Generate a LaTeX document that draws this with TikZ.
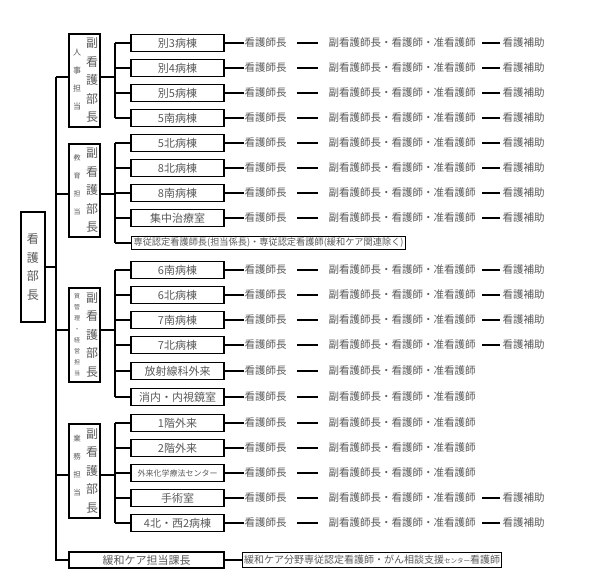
\documentclass[tikz,border=0pt]{standalone}
\usepackage{fontspec}
\setmainfont{Noto Sans CJK JP}
\begin{document}
\begin{tikzpicture}[x=1pt,y=-1pt,
  line width=1.1pt,
  tx/.style={text=black!65},
  ward/.style={draw,tx,minimum width=93pt,minimum height=17pt,inner sep=0pt,font=\fontsize{11}{12}\selectfont},
  rtxt/.style={tx,inner sep=0pt,anchor=west,font=\fontsize{10.5}{12}\selectfont},
  dep/.style={draw,minimum width=31pt,inner sep=0pt},
  big/.style={tx,align=center,inner sep=0pt,font=\fontsize{12}{18.5}\selectfont},
  small/.style={tx,align=center,inner sep=0pt,font=\fontsize{8}{18}\selectfont}]
\useasboundingbox (0,0) rectangle (600,586);
% director
\node[draw,minimum width=24pt,minimum height=110pt,inner sep=0pt,big,text=black!65] (dir) at (33,267) {看\\護\\部\\長};
% deputies
\node[dep,minimum height=93pt] (d1) at (84.5,80.5) {};
\node[dep,minimum height=93pt] (d2) at (84.5,190.5) {};
\node[dep,minimum height=94pt] (d3) at (84.5,335) {};
\node[dep,minimum height=94pt] (d4) at (84.5,471) {};
\foreach \n/\c in {d1/80.5,d2/190.5,d3/335,d4/471}{
  \node[big] (\n t) at (92,\c) {副\\看\\護\\部\\長};}
\node[small] (s1) at (77,80) {人\\事\\担\\当};
\node[small,font=\fontsize{7}{18}\selectfont] (s2) at (77,185) {教\\育\\担\\当};
\node[small,font=\fontsize{6}{11}\selectfont] (s3) at (77,335) {質\\管\\理\\・\\経\\営\\担\\当};
\node[small,font=\fontsize{7.5}{18}\selectfont] (s4) at (77,466) {業\\務\\担\\当};
% spine
\coordinate (top) at (56,77);
\coordinate (bot) at (56,557);
\draw (top) -- (bot);
\draw (dir.east) -- (dir.east -| top);
\foreach \n/\yy in {d1/77,d2/194,d3/330,d4/475}{
  \draw (56,\yy) -- (\n.west |- 0,\yy);
  \draw (\n.east |- 0,\yy) -- (115,\yy);}
% wards
\foreach \i/\yy/\lab/\full in {
 1/43/別3病棟/1, 2/68/別4病棟/1, 3/93/別5病棟/1, 4/118/5南病棟/1,
 5/143/5北病棟/1, 6/168/8北病棟/1, 7/193/8南病棟/1, 8/218/集中治療室/1,
 9/270/6南病棟/1, 10/295/6北病棟/1, 11/320/7南病棟/1, 12/345/7北病棟/1,
 13/371/放射線科外来/0, 14/397/消内・内視鏡室/0,
 15/423/1階外来/0, 16/448/2階外来/0, 17/473/{\fontsize{8}{9}\selectfont 外来化学療法センター}/0,
 18/498/手術室/1, 19/523/4北・西2病棟/1}{
  \node[ward] (w\i) at (177.5,\yy) {\lab};
  \draw (115,\yy) -- (w\i.west);
  \node[rtxt] (h\i) at (244,\yy) {看護師長};
  \node[rtxt] (m\i) at (328,\yy) {副看護師長・看護師・准看護師};
  \draw (w\i.east) -- (h\i.west);
  \draw[shorten <=10pt,shorten >=10pt] (h\i.east) -- (m\i.west);
  \ifnum\full=1
    \node[rtxt] (a\i) at (502,\yy) {看護補助};
    \draw[shorten <=6pt,shorten >=2pt] (m\i.east) -- (a\i.west);
  \fi
}
% special row
\node[draw,tx,anchor=west,minimum height=12pt,inner sep=2pt,font=\fontsize{9.2}{10}\selectfont] (sp) at (131,243) {専従認定看護師長(担当係長)・専従認定看護師(緩和ケア関連除く)};
\draw (115,243) -- (sp.west);
\draw (115,143) -- (115,243);
\draw (115,43) -- (115,118);
\draw (115,270) -- (115,397);
\draw (115,423) -- (115,523);
% palliative
\node[draw,tx,minimum width=155pt,minimum height=16pt,inner sep=0pt,font=\fontsize{11}{12}\selectfont] (pc) at (146.5,560) {緩和ケア担当課長};
\draw (56,557) -- (56,560) -- (pc.west);
\node[draw,tx,anchor=west,minimum height=15pt,inner sep=1.5pt,font=\fontsize{10}{12}\selectfont] (pn) at (242,560) {緩和ケア分野専従認定看護師・がん相談支援{\fontsize{6.5}{8}\selectfont センター}看護師};
\draw (pc.east) -- (pn.west);
\end{tikzpicture}
\end{document}
